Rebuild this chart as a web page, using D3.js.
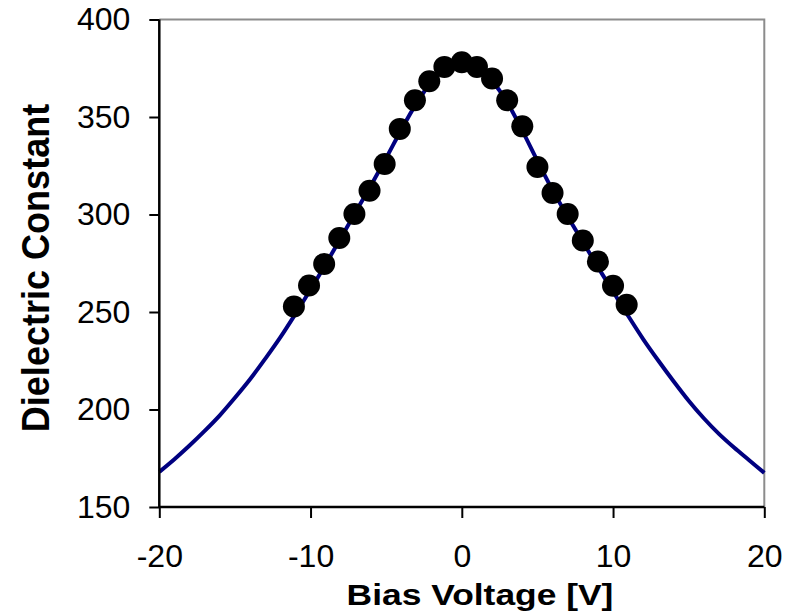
<!DOCTYPE html>
<html>
<head>
<meta charset="utf-8">
<script src="https://cdn.jsdelivr.net/npm/d3@7"></script>
<style>
  body { margin: 0; background: #fff; }
  text { font-family: Arial, "Liberation Sans", sans-serif; }
</style>
</head>
<body>
<div id="chart"></div>
<script>
// measured points (bias voltage, dielectric constant)
var pointV = [-11.1, -10.1, -9.1, -8.1, -7.1, -6.1, -5.1, -4.1, -3.1, -2.15, -1.15, 0,
              1, 2, 3, 4, 5, 6, 7, 8, 9, 10, 10.9];
var pointK = [252.8, 263.6, 274.6, 287.9, 300.3, 312.2, 325.9, 343.9, 358.6, 368.3, 375.7, 378.1,
              375.7, 369.7, 358.6, 345.2, 324.4, 311.0, 300.3, 286.7, 275.9, 263.5, 253.7];

// fitted curve, every 1 V
var fitV = [-20, -19, -18, -17, -16, -15, -14, -13, -12, -11, -10, -9, -8, -7, -6, -5, -4, -3, -2, -1, 0,
            1, 2, 3, 4, 5, 6, 7, 8, 9, 10, 11, 12, 13, 14, 15, 16, 17, 18, 19, 20];
var fitK = [168, 174.5, 181.5, 189, 197, 206, 215.5, 226, 237, 249, 261.5, 274.5, 288, 301.5, 315, 329, 343.5, 357, 368, 375.5, 378,
            375.5, 368.5, 357.5, 343, 327.5, 312.5, 299, 286, 273, 260.5, 248, 236, 225, 214.5, 204.5, 195.5, 187.5, 180.5, 174, 167.5];

var xTicks = [-20, -10, 0, 10, 20];
var yTicks = [150, 200, 250, 300, 350, 400];

var W = 799, H = 613;
var margin = {top: 19.5, right: 34.7, bottom: 106, left: 159.3},
    width = W - margin.left - margin.right,
    height = H - margin.top - margin.bottom;

var x = d3.scaleLinear().domain([-20, 20]).range([0, width]);
var y = d3.scaleLinear().domain([150, 400]).range([height, 0]);

var svg = d3.select("#chart").append("svg")
    .attr("width", W)
    .attr("height", H);

var g = svg.append("g")
    .attr("transform", "translate(" + margin.left + "," + margin.top + ")");

// plot area border (top + right)
g.append("path")
    .attr("d", "M0,0H" + width + "V" + height)
    .attr("fill", "none")
    .attr("stroke", "#8c8c8c")
    .attr("stroke-width", 2);

// fitted curve
var line = d3.line()
    .x(function(d, i) { return x(fitV[i]); })
    .y(function(d) { return y(d); })
    .curve(d3.curveMonotoneX);

g.append("path")
    .datum(fitK)
    .attr("d", line)
    .attr("fill", "none")
    .attr("stroke", "#000080")
    .attr("stroke-width", 4);

// axes (plain hyphen for negatives, like the original)
var fmt = function(d) { return String(d); };
var xAxis = d3.axisBottom(x).tickValues(xTicks).tickFormat(fmt).tickSize(11).tickPadding(26);
var yAxis = d3.axisLeft(y).tickValues(yTicks).tickFormat(fmt).tickSize(10).tickPadding(19);

var gx = g.append("g")
    .attr("transform", "translate(0," + height + ")")
    .call(xAxis);
var gy = g.append("g").call(yAxis);

[gx, gy].forEach(function(a) {
  a.select(".domain").attr("stroke", "#000").attr("stroke-width", 2.5);
  a.selectAll(".tick line").attr("stroke", "#000").attr("stroke-width", 2);
  a.selectAll(".tick text")
      .attr("fill", "#000")
      .style("font-size", "32px")
      .style("font-family", "Arial, 'Liberation Sans', sans-serif");
});
gx.select(".domain").attr("d", "M0,0H" + width);
gy.select(".domain").attr("d", "M0," + height + "V0");

// points
g.selectAll("circle.pt")
    .data(pointK)
    .enter()
    .append("circle")
    .attr("class", "pt")
    .attr("cx", function(d, i) { return x(pointV[i]); })
    .attr("cy", function(d) { return y(d); })
    .attr("r", 11)
    .attr("fill", "#000");

// axis titles
svg.append("text")
    .attr("transform", "translate(480,605) scale(1.18,1)")
    .attr("text-anchor", "middle")
    .style("font-size", "30px")
    .style("font-weight", "bold")
    .text("Bias Voltage [V]");

svg.append("text")
    .attr("transform", "translate(49,268) rotate(-90) scale(1.03,1.1)")
    .attr("text-anchor", "middle")
    .style("font-size", "35px")
    .style("font-weight", "bold")
    .text("Dielectric Constant");
</script>
</body>
</html>
